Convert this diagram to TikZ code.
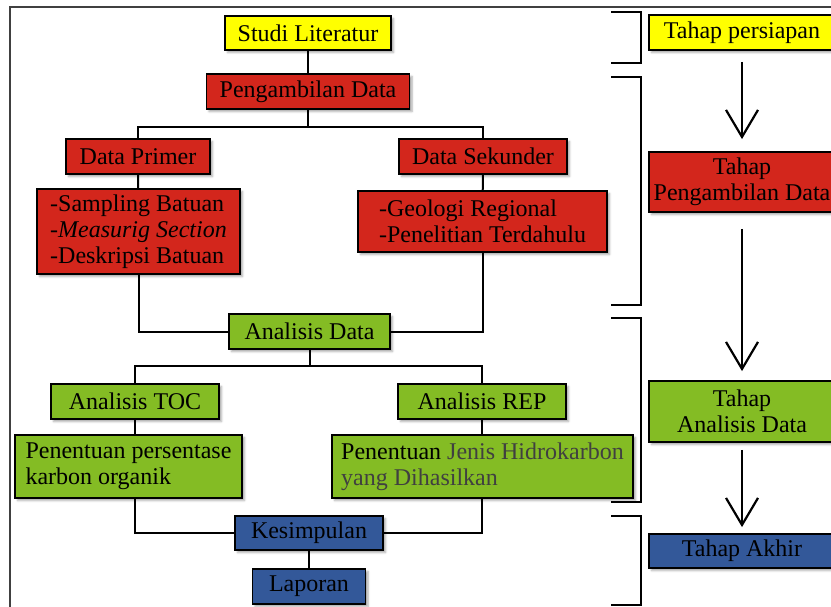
\documentclass[tikz,border=0pt]{standalone}
\usepackage{fontspec}
\setmainfont{Liberation Serif}
\usetikzlibrary{arrows.meta, shadows.blur}
\definecolor{boxyellow}{RGB}{255,255,0}
\definecolor{boxred}{RGB}{211,38,28}
\definecolor{boxgreen}{RGB}{132,188,36}
\definecolor{boxblue}{RGB}{51,88,153}
\definecolor{softtext}{RGB}{64,64,64}

\begin{document}
\begin{tikzpicture}[x=1pt, y=-1pt,
  box/.style={draw, line width=1.8pt, inner xsep=4pt, inner ysep=2pt, align=center,
    font=\fontsize{24}{26}\selectfont,
    blur shadow={shadow xshift=2.5pt, shadow yshift=-2.5pt, shadow blur radius=2pt, shadow opacity=35}},
  listbox/.style={box, align=left},
  link/.style={line width=2pt},
  stagearrow/.style={line width=2.2pt, -{Straight Barb[length=27pt, width=32pt, line width=2.2pt]}},
  bracket/.style={line width=2pt}]
  \useasboundingbox (0,0) rectangle (831,607);
  \clip (0,0) rectangle (831,607);
  \draw[line width=2pt, black!75] (10,7) rectangle (870,650);

  % left column
  \node[box, fill=boxyellow, minimum width=166pt, minimum height=34pt] (studi) at (308,33) {Studi Literatur};
  \node[box, fill=boxred, minimum width=203pt, minimum height=35pt] (ambil) at (308,91.5) {Pengambilan Data};
  \node[box, fill=boxred, minimum width=144pt, minimum height=35pt] (primer) at (138,156.5) {Data Primer};
  \node[box, fill=boxred, minimum width=168pt, minimum height=35pt] (sekunder) at (483,156.5) {Data Sekunder};
  \node[listbox, fill=boxred, minimum width=203pt, minimum height=85pt] (primlist) at (138.5,231.5)
    {-Sampling Batuan\\-\textit{Measurig Section}\\-Deskripsi Batuan};
  \node[listbox, fill=boxred, minimum width=249pt, minimum height=61pt] (sekunlist) at (482.5,221.5)
    {-Geologi Regional\\-Penelitian Terdahulu};
  \node[box, fill=boxgreen, minimum width=161pt, minimum height=35pt] (analisis) at (309.5,331.5) {Analisis Data};
  \node[box, fill=boxgreen, minimum width=168pt, minimum height=35pt] (toc) at (135,401.5) {Analisis TOC};
  \node[box, fill=boxgreen, minimum width=168pt, minimum height=35pt] (rep) at (482,401.5) {Analisis REP};
  \node[listbox, fill=boxgreen, minimum width=227pt, minimum height=63pt] (tocres) at (128.5,466.5)
    {Penentuan persentase\\karbon organik};
  \node[listbox, fill=boxgreen, minimum width=301pt, minimum height=63pt] (represult) at (482.5,466.5)
    {Penentuan \textcolor{softtext}{Jenis Hidrokarbon}\\\textcolor{softtext}{yang Dihasilkan}};
  \node[box, fill=boxblue, minimum width=148pt, minimum height=34pt] (kesimpulan) at (309,533) {Kesimpulan};
  \node[box, fill=boxblue, minimum width=113pt, minimum height=35pt] (laporan) at (309,586.5) {Laporan};

  \coordinate (fork1) at (308,127);
  \coordinate (fork2) at (309.5,366);
  \draw[link] (studi) -- (ambil);
  \draw[link] (ambil) -- (fork1);
  \draw[link] (primer.north) |- (fork1) -| (sekunder.north);
  \draw[link] (primer) -- (primlist);
  \draw[link] (sekunder) -- (sekunlist);
  \draw[link] (primlist.south) |- (analisis.west);
  \draw[link] (sekunlist.south) |- (analisis.east);
  \draw[link] (analisis) -- (fork2);
  \draw[link] (toc.north) |- (fork2) -| (rep.north);
  \draw[link] (toc.south) -- (toc.south |- tocres.north);
  \draw[link] (rep.south) -- (rep.south |- represult.north);
  \draw[link] (tocres.south -| toc) |- (kesimpulan.west);
  \draw[link] (represult.south -| rep) |- (kesimpulan.east);
  \draw[link] (kesimpulan) -- (laporan);

  % brackets
  \draw[bracket] (611,12) -- (641,12) -- (641,63) -- (611,63);
  \draw[bracket] (611,77) -- (641,77) -- (641,305) -- (611,305);
  \draw[bracket] (611,318) -- (641,318) -- (641,502) -- (611,502);
  \draw[bracket] (611,516) -- (641,516) -- (641,605) -- (611,605);

  % right column
  \node[box, fill=boxyellow, minimum width=186pt, minimum height=35pt] (tpersiapan) at (742,32.5) {Tahap persiapan};
  \node[box, fill=boxred, minimum width=186pt, minimum height=60pt] (tambil) at (742,182) {Tahap\\Pengambilan Data};
  \node[box, fill=boxgreen, minimum width=186pt, minimum height=61pt] (tanalisis) at (742,411.5) {Tahap\\Analisis Data};
  \node[box, fill=boxblue, minimum width=186pt, minimum height=34pt] (takhir) at (742,551) {Tahap Akhir};

  \draw[stagearrow, shorten <=11pt, shorten >=12pt] (tpersiapan) -- (tambil);
  \draw[stagearrow, shorten <=16pt, shorten >=9pt] (tambil) -- (tanalisis);
  \draw[stagearrow, shorten <=7pt, shorten >=6pt] (tanalisis) -- (takhir);
\end{tikzpicture}
\end{document}
